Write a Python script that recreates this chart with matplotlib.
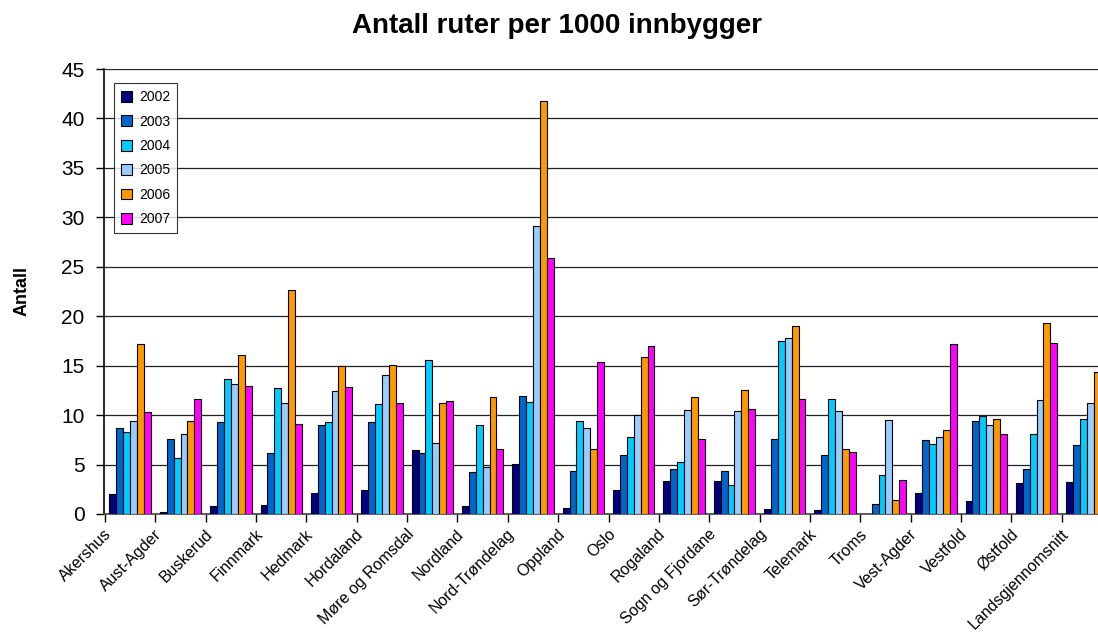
import numpy as np
import matplotlib
matplotlib.use("Agg")
import matplotlib.pyplot as plt

plt.rcParams['font.family'] = ['Liberation Sans', 'DejaVu Sans']

fylker = ["Akershus", "Aust-Agder", "Buskerud", "Finnmark", "Hedmark", "Hordaland",
          "Møre og Romsdal", "Nordland", "Nord-Trøndelag", "Oppland", "Oslo", "Rogaland",
          "Sogn og Fjordane", "Sør-Trøndelag", "Telemark", "Troms", "Vest-Agder",
          "Vestfold", "Østfold", "Landsgjennomsnitt"]

years = ["2002", "2003", "2004", "2005", "2006", "2007"]

v2002 = [2.0, 0.24, 0.81, 0.94, 2.09, 2.4, 6.48, 0.81, 5.03, 0.57, 2.4, 3.34, 3.34, 0.54, 0.37, 0.0, 2.09, 1.32, 3.14, 3.24]
v2003 = [8.74, 7.6, 9.28, 6.17, 9.0, 9.28, 6.21, 4.25, 11.98, 4.39, 5.94, 4.52, 4.39, 7.59, 5.94, 1.05, 7.46, 9.41, 4.52, 6.98]
v2004 = [8.33, 5.67, 13.63, 12.72, 9.28, 11.1, 15.59, 9.0, 11.37, 9.41, 7.83, 5.3, 2.97, 17.48, 11.67, 3.98, 7.09, 9.89, 8.1, 9.65]
v2005 = [9.41, 8.1, 13.12, 11.2, 12.48, 14.07, 7.22, 4.79, 29.08, 8.74, 10.05, 10.56, 10.43, 17.75, 10.43, 9.51, 7.83, 9.0, 11.57, 11.23]
v2006 = [17.2, 9.41, 16.06, 22.64, 14.95, 15.08, 11.23, 11.81, 41.8, 6.58, 15.86, 11.81, 12.58, 19.03, 6.58, 1.42, 8.5, 9.65, 19.3, 14.4]
v2007 = [10.3, 11.67, 12.99, 9.14, 12.89, 11.23, 11.47, 6.58, 25.84, 15.32, 17.0, 7.59, 10.66, 11.67, 6.31, 3.48, 17.14, 8.1, 17.34, 13.5]

colors = ["#000080", "#0066cc", "#00ccff", "#99ccff", "#ff9900", "#ff00ff"]

fig = plt.figure(figsize=(10.98, 6.35), dpi=100)
ax = fig.add_axes([0.0947, 0.1906, 0.9053, 0.7007])

series = [v2002, v2003, v2004, v2005, v2006, v2007]
x = np.arange(len(fylker))
w = 0.137
for i, vals in enumerate(series):
    ax.bar(x + 0.5 + (i - 2.5) * w, vals, width=w, color=colors[i],
           edgecolor="black", linewidth=0.8, label=years[i], zorder=3)

ax.set_ylim(0, 45)
ax.set_xlim(0, 19.72)
ax.set_yticks(range(0, 46, 5))
ax.yaxis.grid(True, color="#222222", linewidth=0.9, zorder=0)
ax.set_xticks(np.arange(0, 20))
ax.set_xticklabels([])
ax.set_xticks(x - 0.02, minor=True)
ax.set_xticklabels(fylker, minor=True, rotation=45, ha="right", rotation_mode="anchor",
                   fontsize=11.5)
ax.tick_params(axis="x", which="minor", length=0, pad=9)
ax.tick_params(axis="x", which="major", length=6, width=1, direction="out")
ax.tick_params(axis="y", length=6, width=1, direction="out", labelsize=15, pad=8)

for s in ["top", "right"]:
    ax.spines[s].set_visible(False)
ax.spines["left"].set_linewidth(1.2)
ax.spines["bottom"].set_linewidth(1.2)
ax.spines["bottom"].set_color("#444444")

ax.set_ylabel("Antall", fontsize=13, fontweight="bold", labelpad=22)
fig.suptitle("Antall ruter per 1000 innbygger", fontsize=20, fontweight="bold",
             x=0.507, y=0.98)

leg = ax.legend(loc="upper left", bbox_to_anchor=(0.01, 0.968), borderaxespad=0,
                fontsize=10, frameon=True, fancybox=False, edgecolor="black",
                handlelength=0.8, handleheight=0.8, labelspacing=0.75, borderpad=0.5,
                handletextpad=0.5)
leg.get_frame().set_linewidth(0.8)
leg.set_zorder(5)

fig.savefig("out.png", dpi=100)
